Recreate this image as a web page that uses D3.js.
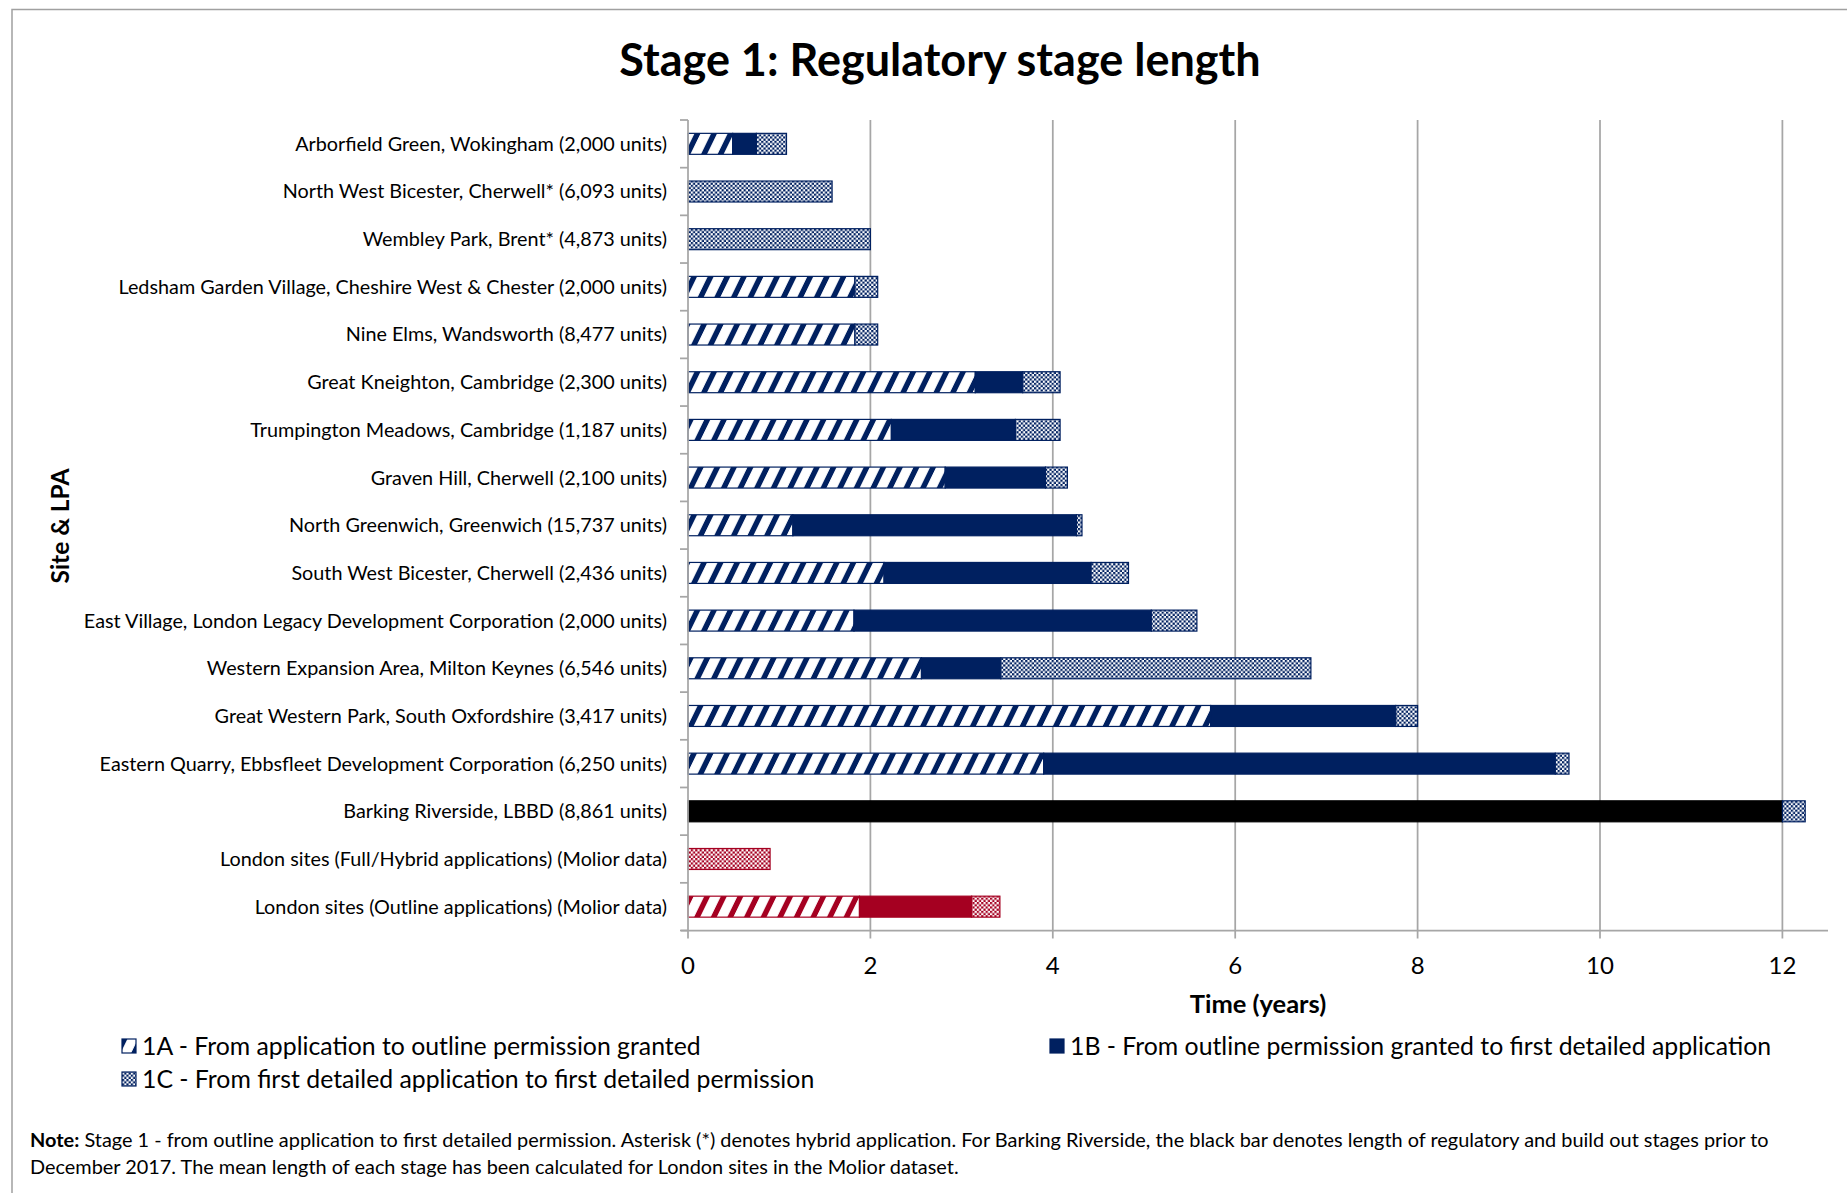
<!DOCTYPE html>
<html><head><meta charset="utf-8">
<script src="https://cdn.jsdelivr.net/npm/d3@7"></script>
<style>body{margin:0;background:#fff} svg{display:block}</style>
</head><body>
<svg id="chart" width="1847" height="1193"></svg>
<script>
// ---------------- DATA ----------------
const categories = [
  "Arborfield Green, Wokingham (2,000 units)",
  "North West Bicester, Cherwell* (6,093 units)",
  "Wembley Park, Brent* (4,873 units)",
  "Ledsham Garden Village, Cheshire West & Chester (2,000 units)",
  "Nine Elms, Wandsworth (8,477 units)",
  "Great Kneighton, Cambridge (2,300 units)",
  "Trumpington Meadows, Cambridge (1,187 units)",
  "Graven Hill, Cherwell (2,100 units)",
  "North Greenwich, Greenwich (15,737 units)",
  "South West Bicester, Cherwell (2,436 units)",
  "East Village, London Legacy Development Corporation (2,000 units)",
  "Western Expansion Area, Milton Keynes (6,546 units)",
  "Great Western Park, South Oxfordshire (3,417 units)",
  "Eastern Quarry, Ebbsfleet Development Corporation (6,250 units)",
  "Barking Riverside, LBBD (8,861 units)",
  "London sites (Full/Hybrid applications) (Molior data)",
  "London sites (Outline applications) (Molior data)"
];
// Barking Riverside: regulatory + build out stages prior to Dec 2017 (black bar)
const priorStages = [0,0,0,0,0,0,0,0,0,0,0,0,0,0,12.0,0,0];
const stage1A = [0.49,0,0,1.83,1.83,3.15,2.23,2.82,1.15,2.15,1.82,2.56,5.73,3.90,0,0,1.88];
const stage1B = [0.26,0,0,0,0,0.52,1.36,1.10,3.11,2.27,3.26,0.87,2.03,5.61,0,0,1.23];
const stage1C = [0.33,1.58,2.00,0.25,0.25,0.41,0.49,0.24,0.06,0.41,0.50,3.40,0.24,0.15,0.25,0.90,0.31];
const xTicks = [0,2,4,6,8,10,12];
const xMax = 12.5;
const titleText = "Stage 1: Regulatory stage length";
const xTitle = "Time (years)";
const yTitle = "Site & LPA";
const legendLabels = {
  s1A: "1A - From application to outline permission granted",
  s1B: "1B - From outline permission granted to first detailed application",
  s1C: "1C - From first detailed application to first detailed permission"
};
const noteLines = [
  ["Note:", " Stage 1 - from outline application to first detailed permission. Asterisk (*) denotes hybrid application. For Barking Riverside, the black bar denotes length of regulatory and build out stages prior to"],
  ["", "December 2017. The mean length of each stage has been calculated for London sites in the Molior dataset."]
];

// ---------------- STYLE ----------------
const NAVY = "#002060", RED = "#A50021", GRID = "#a6a6a6";
const FONT = "Lato, 'Open Sans', sans-serif";

const svg = d3.select("#chart");
const M = {left: 688, right: 1828, top: 120, bottom: 930.5};

// frame
svg.append("path").attr("d", "M12,1193 L12,9.5 L1847,9.5")
  .attr("fill", "none").attr("stroke", "#a0a0a0").attr("stroke-width", 1.5);

// patterns
const defs = svg.append("defs");
function makePatterns(name, color) {
  const st = defs.append("pattern").attr("id", "stripe-" + name)
    .attr("patternUnits", "userSpaceOnUse").attr("width", 16.6).attr("height", 20)
    .attr("patternTransform", "skewX(-26)");
  st.append("rect").attr("width", 16.6).attr("height", 20).attr("fill", color);
  st.append("rect").attr("x", 2).attr("width", 10.6).attr("height", 20).attr("fill", "#fff");
  const ck = defs.append("pattern").attr("id", "check-" + name)
    .attr("patternUnits", "userSpaceOnUse").attr("width", 4.4).attr("height", 4.4);
  ck.append("rect").attr("width", 4.4).attr("height", 4.4).attr("fill", "#fff");
  ck.append("rect").attr("width", 2.2).attr("height", 2.2).attr("fill", color);
  ck.append("rect").attr("x", 2.2).attr("y", 2.2).attr("width", 2.2).attr("height", 2.2).attr("fill", color);
}
makePatterns("navy", NAVY);
makePatterns("red", RED);

// scales
const x = d3.scaleLinear().domain([0, xMax]).range([M.left, M.right]);
const y = d3.scaleBand().domain(categories).range([M.top, M.bottom])
  .paddingInner(0.56).paddingOuter(0.28);

// gridlines
svg.append("g").selectAll("line").data(xTicks.filter(d => d > 0)).join("line")
  .attr("x1", d => x(d)).attr("x2", d => x(d))
  .attr("y1", M.top).attr("y2", M.bottom)
  .attr("stroke", GRID).attr("stroke-width", 1.75);

// stacked data
const rows = categories.map((c, i) => ({cat: c, prior: priorStages[i], s1A: stage1A[i], s1B: stage1B[i], s1C: stage1C[i]}));
const keys = ["prior", "s1A", "s1B", "s1C"];
const stacked = d3.stack().keys(keys)(rows);
const isRed = c => c.indexOf("Molior") >= 0;
function fillFor(key, cat) {
  const n = isRed(cat) ? "red" : "navy";
  const col = isRed(cat) ? RED : NAVY;
  if (key === "prior") return "#000";
  if (key === "s1A") return "url(#stripe-" + n + ")";
  if (key === "s1B") return col;
  return "url(#check-" + n + ")";
}
function strokeFor(key, cat) {
  if (key === "prior") return "#000";
  return isRed(cat) ? RED : NAVY;
}
const bw = y.bandwidth();
stacked.forEach(layer => {
  const key = layer.key;
  svg.append("g").selectAll("rect").data(layer.filter(d => d[1] - d[0] > 0)).join("rect")
    .attr("x", d => x(d[0])).attr("width", d => x(d[1]) - x(d[0]))
    .attr("y", d => y(d.data.cat)).attr("height", bw)
    .attr("fill", d => fillFor(key, d.data.cat))
    .attr("stroke", d => strokeFor(key, d.data.cat))
    .attr("stroke-width", 1.2);
});

// x axis
const xAxis = svg.append("g").attr("transform", `translate(0,${M.bottom})`);
xAxis.append("line").attr("x1", M.left - 7).attr("x2", M.right)
  .attr("stroke", GRID).attr("stroke-width", 1.75);
xAxis.selectAll("line.tick").data(xTicks).join("line").attr("class", "tick")
  .attr("x1", d => x(d)).attr("x2", d => x(d)).attr("y1", 0).attr("y2", 8)
  .attr("stroke", GRID).attr("stroke-width", 1.75);
xAxis.selectAll("text").data(xTicks).join("text")
  .attr("x", d => x(d)).attr("y", 43).attr("text-anchor", "middle")
  .attr("font-family", FONT).attr("font-size", 24).attr("fill", "#000")
  .text(d => d3.format("d")(d));

// y axis
const yAxis = svg.append("g");
yAxis.append("line").attr("x1", M.left).attr("x2", M.left).attr("y1", M.top).attr("y2", M.bottom)
  .attr("stroke", GRID).attr("stroke-width", 1.75);
const bounds = categories.map(c => y(c) - y.step() * 0.28).concat([M.bottom]);
yAxis.selectAll("line.tick").data(bounds).join("line").attr("class", "tick")
  .attr("x1", M.left - 8).attr("x2", M.left).attr("y1", d => d).attr("y2", d => d)
  .attr("stroke", GRID).attr("stroke-width", 1.75);
yAxis.selectAll("text").data(categories).join("text")
  .attr("x", 667).attr("y", d => y(d) + bw / 2).attr("dy", "0.35em")
  .attr("text-anchor", "end").attr("font-family", FONT).attr("font-size", 19.8).attr("fill", "#000")
  .text(d => d);

// titles
svg.append("text").attr("x", 940).attr("y", 76).attr("text-anchor", "middle")
  .attr("font-family", FONT).attr("font-weight", "bold").attr("font-size", 45).text(titleText);
svg.append("text").attr("x", (M.left + M.right) / 2).attr("y", 1013).attr("text-anchor", "middle")
  .attr("font-family", FONT).attr("font-weight", "bold").attr("font-size", 25.5).text(xTitle);
svg.append("text").attr("transform", "translate(69,526) rotate(-90)").attr("text-anchor", "middle")
  .attr("font-family", FONT).attr("font-weight", "bold").attr("font-size", 24.5).text(yTitle);

// legend
const legendItems = [
  {key: "s1A", x: 122, y: 1046},
  {key: "s1B", x: 1050, y: 1046},
  {key: "s1C", x: 122, y: 1079}
];
const lg = svg.append("g").selectAll("g").data(legendItems).join("g")
  .attr("transform", d => `translate(${d.x},${d.y})`);
lg.append("rect").attr("x", 0).attr("y", -7).attr("width", 14).attr("height", 14)
  .attr("fill", d => fillFor(d.key, "")).attr("stroke", NAVY).attr("stroke-width", 1.2);
lg.append("text").attr("x", 20).attr("y", 0).attr("dy", "0.36em")
  .attr("font-family", FONT).attr("font-size", 24.8).attr("fill", "#000")
  .text(d => legendLabels[d.key]);

// note
const nt = svg.append("g").selectAll("text").data(noteLines).join("text")
  .attr("x", 30).attr("y", (d, i) => 1147 + i * 27)
  .attr("font-family", FONT).attr("font-size", 19.9).attr("fill", "#000");
nt.append("tspan").attr("font-weight", "bold").text(d => d[0]);
nt.append("tspan").text(d => d[1]);
</script>
</body></html>
